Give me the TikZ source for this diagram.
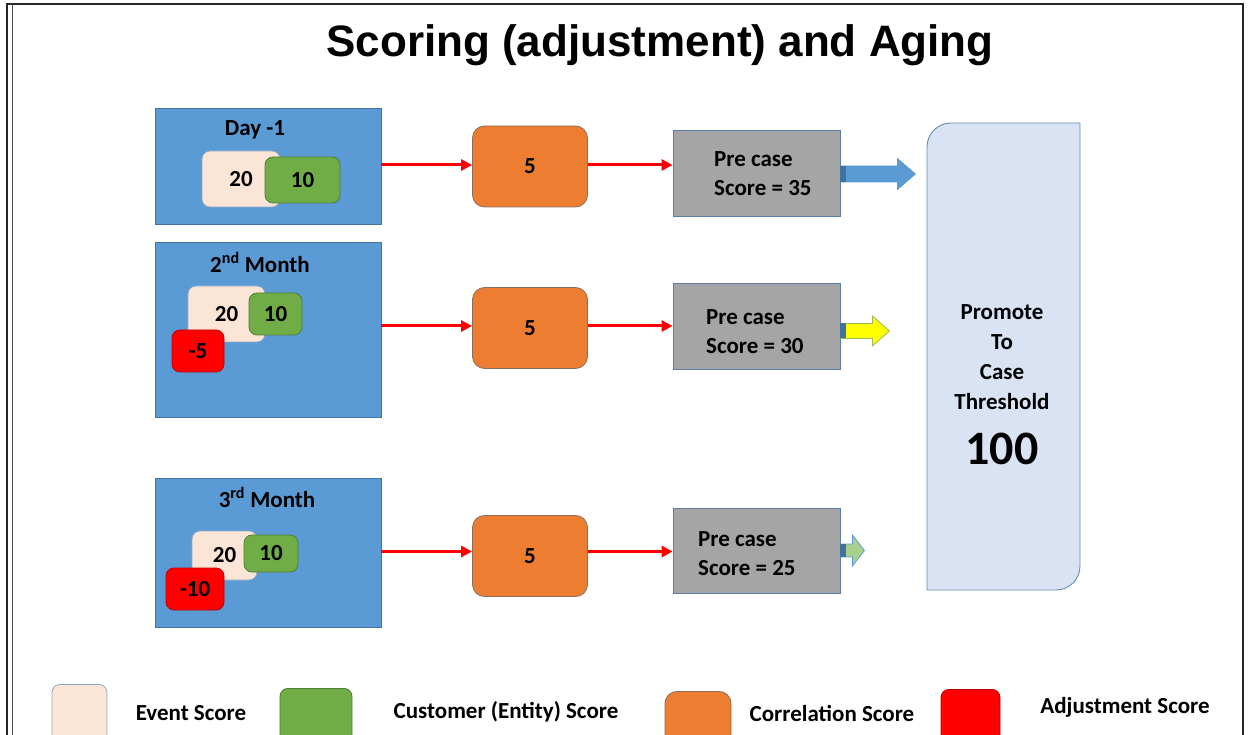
\documentclass[tikz,border=0pt]{standalone}
\usepackage{fontspec}
\setmainfont{Carlito}
\newfontfamily\titlefont{Liberation Sans}
\usepackage{tikz}
\usetikzlibrary{calc,arrows.meta}

\definecolor{periodfill}{HTML}{5B9BD5}
\definecolor{periodline}{HTML}{41719C}
\definecolor{eventfill}{HTML}{FBE5D6}
\definecolor{eventline}{HTML}{8EA9C8}
\definecolor{custfill}{HTML}{70AD47}
\definecolor{custline}{HTML}{507E32}
\definecolor{adjfill}{HTML}{FF0000}
\definecolor{adjline}{HTML}{C00000}
\definecolor{corrfill}{HTML}{ED7D31}
\definecolor{corrline}{HTML}{8C6E5A}
\definecolor{prefill}{HTML}{A5A5A5}
\definecolor{preline}{HTML}{5A7FA6}
\definecolor{promotefill}{HTML}{DAE3F3}
\definecolor{promoteline}{HTML}{6A8DB5}
\definecolor{flowred}{HTML}{FF0000}
\definecolor{blockblue}{HTML}{5B9BD5}
\definecolor{blockyellow}{HTML}{FFFF00}
\definecolor{blockyellowline}{HTML}{9BBB59}
\definecolor{blockgreen}{HTML}{A9D18E}
\definecolor{stripe}{HTML}{41719C}

\begin{document}
\begin{tikzpicture}[x=1pt,y=-1pt,
    every node/.style={inner sep=0pt, font=\bfseries\fontsize{23}{29}\selectfont},
    period/.style={draw=periodline, fill=periodfill, line width=0.8pt, minimum width=226},
    score/.style={rounded corners=8, line width=0.8pt},
    event/.style={score, draw=eventline, fill=eventfill},
    customer/.style={score, draw=custline, fill=custfill},
    adjust/.style={score, draw=adjline, fill=adjfill},
    correl/.style={draw=corrline, fill=corrfill, rounded corners=12, line width=0.8pt,
      minimum width=115, minimum height=81},
    precase/.style={draw=preline, fill=prefill, line width=0.8pt, minimum width=167},
    flow/.style={draw=flowred, line width=3pt, -{Triangle[length=11pt,width=11pt]}}
  ]

  \useasboundingbox (0,0) rectangle (1254,735);
  \clip (0,0) rectangle (1254,735);

  %% Page frame
  \draw[line width=1.2pt, black!85] (7,740) -- (7,4) -- (1243,4) -- (1243,740);
  \draw[line width=1.8pt, black!70] (12.5,4) -- (12.5,740);

  %% Title
  \node[font=\titlefont\bfseries\fontsize{44}{50}\selectfont] (title) at (660,45)
    {Scoring (adjustment) and Aging};

  %% Periods -> correlation -> pre case score
  \foreach \n/\yp/\hp/\yc/\yq/\hq/\dy in
    {1/166/116/166.5/173/86/-1.5, 2/329.5/175/328/326/86/-2, 3/552.5/149/556/550.5/85/-4.5}
  {
    \node[period, minimum height=\hp] (period\n) at (268,\yp) {};
    \node[correl] (corr\n) at (530,\yc) {5};
    \node[precase, minimum height=\hq] (pre\n) at (756.5,\yq) {};
    \coordinate (in\n) at ($(corr\n.west)+(0,\dy)$);
    \coordinate (out\n) at ($(corr\n.east)+(0,\dy)$);
    \draw[flow] (period\n.east |- in\n) -- (in\n);
    \draw[flow] (out\n) -- (out\n -| pre\n.west);
  }

  %% Period labels
  \node (day) at (255,130) {Day -1};
  \node (month2nd) at (260,262) {2\textsuperscript{nd} Month};
  \node (month3rd) at (267,497) {3\textsuperscript{rd} Month};

  %% Scores inside the periods
  \node[event, minimum width=78, minimum height=56] (ev1) at (241,179) {20};
  \node[customer, minimum width=75, minimum height=46] (cu1) at (302.5,180) {10};

  \node[event, minimum width=77, minimum height=56] (ev2) at (226.5,314) {20};
  \node[customer, minimum width=53, minimum height=42] (cu2) at (275.5,314) {10};
  \node[adjust, minimum width=52, minimum height=42] (ad2) at (198,351) {-5};

  \node[event, minimum width=65, minimum height=49] (ev3) at (224.5,555.5) {20};
  \node[customer, minimum width=54, minimum height=37] (cu3) at (271,553.5) {10};
  \node[adjust, minimum width=58, minimum height=42] (ad3) at (195,589) {-10};

  %% Pre case texts
  \foreach \n/\x/\y/\s in {1/714/173.5/35, 2/706/332/30, 3/698/554/25}
    \node[align=left, anchor=west] (pretxt\n) at (\x,\y) {Pre case\\Score = \s};

  %% Block arrows towards the threshold
  \foreach \n/\dy/\len/\bh/\hh/\hl/\col/\ln in
    {1/1/75/8/15.5/18/blockblue/blockblue, 2/5/49/7.5/15/17/blockyellow/blockyellowline,
     3/0/24/6.5/15.5/12/blockgreen/blockblue}
  {
    \coordinate (tail\n) at ($(pre\n.east)+(0,\dy)$);
    \draw[fill=\col, draw=\ln, line width=0.8pt] (tail\n) ++(0,-\bh) -- ++(\len-\hl,0)
      -- ++(0,\bh-\hh) -- ++(\hl,\hh) -- ++(-\hl,\hh) -- ++(0,\bh-\hh) -- ++(\hl-\len,0) -- cycle;
    \fill[stripe] (tail\n) ++(0,-\bh) rectangle ++(6,2*\bh);
  }

  %% Threshold
  \draw[draw=promoteline, fill=promotefill, line width=0.9pt] (1080,123) -- (951,123)
    .. controls (937.7,123) and (927,133.7) .. (927,147) -- (927,590) -- (1056,590)
    .. controls (1069.3,590) and (1080,579.3) .. (1080,566) -- cycle;
  \node[align=center, font=\bfseries\fontsize{23}{30}\selectfont] (promote) at (1002,357)
    {Promote\\To\\Case\\Threshold};
  \node[font=\bfseries\fontsize{48}{50}\selectfont] (threshold) at (1002,449) {100};

  %% Legend
  \foreach \n/\st/\x/\y/\w/\lx/\ly/\txt in
    {1/event/79.5/684/55/191/713/Event Score,
     2/customer/316/688/72/506/712/Customer (Entity) Score,
     3/correl/698/691/66/832/713/Correlation Score,
     4/adjust/970.5/689/59/1125/707/Adjustment Score}
  {
    \node[\st, minimum width=\w, minimum height=60, anchor=north] (key\n) at (\x,\y) {};
    \node (keytxt\n) at (\lx,\ly) {\txt};
  }

\end{tikzpicture}
\end{document}
